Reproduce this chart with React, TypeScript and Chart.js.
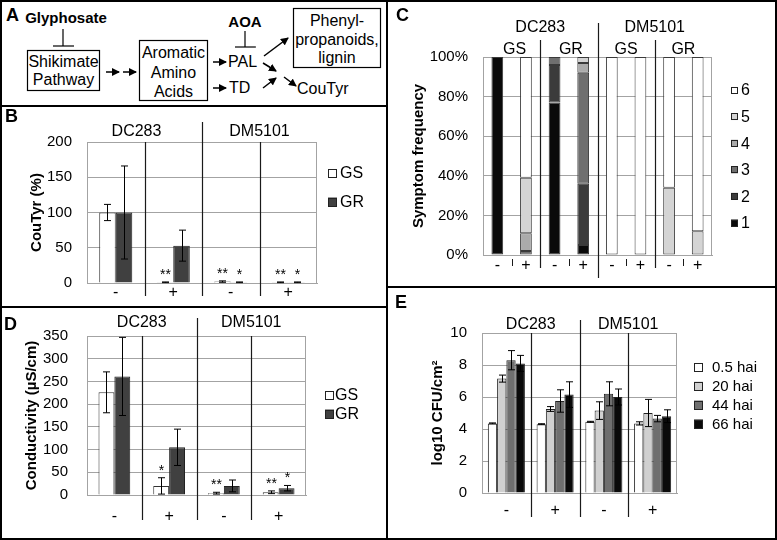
import React, { useEffect, useRef } from 'react';
import { Chart, registerables } from 'chart.js';

Chart.register(...registerables);

const FONT = "'Liberation Sans', Arial, Helvetica, sans-serif";
Chart.defaults.font.family = FONT;
Chart.defaults.color = '#000';

// ---------- shared labels ----------
const strains = ['DC283', 'DM5101'];
const aoa4 = ['-', '+', '-', '+'];
const aoa8 = ['-', '+', '-', '+', '-', '+', '-', '+'];
const genotypes = ['GS', 'GR'];
const genotypeHeaders = ['GS', 'GR', 'GS', 'GR'];

// ---------- panel B: CouTyr (%) ----------
const couTyrGS = [100, 1, 2, 1];
const couTyrGSErr = [11.5, 0.5, 1, 0.5];
const couTyrGR = [100, 53, 1, 1];
const couTyrGRErr = [66, 22, 0.5, 0.5];
const couTyrGSStars = ['', '**', '**', '**'];
const couTyrGRStars = ['', '', '*', '*'];

// ---------- panel D: conductivity ----------
const condGS = [226, 20, 4, 6];
const condGSErr = [45, 18, 2, 3];
const condGR = [261, 105, 20, 15];
const condGRErr = [86, 40, 13, 6];
const condGSStars = ['', '*', '**', '**'];
const condGRStars = ['', '', '', '*'];

// ---------- panel C: symptom frequency (%) ----------
const symptomScores = ['1', '2', '3', '4', '5', '6'];
const score1 = [100, 0, 77, 5, 0, 0, 0, 0];
const score2 = [0, 0, 19, 31, 0, 0, 0, 0];
const score3 = [0, 2, 4, 56, 0, 0, 0, 0];
const score4 = [0, 9, 0, 5, 0, 0, 0, 0];
const score5 = [0, 28, 0, 3, 0, 0, 34, 12];
const score6 = [0, 61, 0, 0, 100, 100, 66, 88];

// ---------- panel E: log10 CFU/cm2 ----------
const haiLabels = ['0.5 hai', '20 hai', '44 hai', '66 hai'];
const cfu05 = [4.35, 4.3, 4.45, 4.35];
const cfu05Err = [0.03, 0.03, 0.03, 0.1];
const cfu20 = [7.15, 5.25, 5.15, 5.0];
const cfu20Err = [0.22, 0.15, 0.55, 0.85];
const cfu44 = [8.3, 5.75, 6.2, 4.65];
const cfu44Err = [0.6, 0.7, 0.75, 0.2];
const cfu66 = [8.1, 6.15, 6.0, 4.8];
const cfu66Err = [0.5, 0.8, 0.5, 0.4];

const GRID = '#a3a3a3';
const GS_FILL = '#ffffff';
const GR_FILL = '#404040';
const SCORE_FILLS = ['#0a0a0a', '#3b3b3b', '#6f6f6f', '#ababab', '#d4d4d4', '#ffffff'];
const HAI_FILLS = ['#ffffff', '#d0d0d0', '#6f6f6f', '#0a0a0a'];

const errorBarPlugin = {
  id: 'errorBars',
  afterDatasetsDraw(chart: any) {
    const ctx = chart.ctx;
    const ys = chart.scales.y;
    chart.data.datasets.forEach((ds: any, di: number) => {
      const errs = ds.errors;
      const stars = ds.stars;
      if (!errs && !stars) return;
      const meta = chart.getDatasetMeta(di);
      meta.data.forEach((el: any, i: number) => {
        const v = ds.data[i];
        const e = errs ? errs[i] : 0;
        const x = Math.round(el.x) + 0.5;
        const yt = ys.getPixelForValue(v + e);
        const yb = ys.getPixelForValue(Math.max(v - e, 0));
        ctx.save();
        if (errs) {
          ctx.strokeStyle = '#000';
          ctx.lineWidth = 1;
          ctx.beginPath();
          ctx.moveTo(x, yt);
          ctx.lineTo(x, yb);
          ctx.moveTo(x - 3.5, yt);
          ctx.lineTo(x + 3.5, yt);
          ctx.moveTo(x - 3.5, yb);
          ctx.lineTo(x + 3.5, yb);
          ctx.stroke();
        }
        if (stars && stars[i]) {
          ctx.fillStyle = '#000';
          ctx.font = `14px ${FONT}`;
          ctx.textAlign = 'center';
          ctx.textBaseline = 'alphabetic';
          ctx.fillText(stars[i], x, yt - 3);
        }
        ctx.restore();
      });
    });
  },
};

function decor(o: any) {
  return {
    id: 'decor',
    afterDraw(chart: any) {
      const { ctx, chartArea: ca } = chart;
      const xs = chart.scales.x;
      const px = (i: number) => xs.getPixelForValue(i);
      const mid = (i: number) => (px(i) + px(i + 1)) / 2;
      ctx.save();
      // right frame of plot
      ctx.strokeStyle = GRID;
      ctx.lineWidth = 1;
      ctx.beginPath();
      const rx = Math.round(ca.right) - 0.5;
      ctx.moveTo(rx, ca.top);
      ctx.lineTo(rx, ca.bottom);
      ctx.stroke();
      // dividers
      (o.dividers || []).forEach((d: any) => {
        ctx.strokeStyle = '#1a1a1a';
        ctx.lineWidth = d.w || 1.2;
        const xx = Math.round(mid(d.after)) + 0.5;
        ctx.beginPath();
        ctx.moveTo(xx, d.y1 === undefined ? ca.top : d.y1);
        ctx.lineTo(xx, d.y2);
        ctx.stroke();
      });
      // headers
      ctx.fillStyle = '#000';
      ctx.font = `16px ${FONT}`;
      ctx.textAlign = 'center';
      ctx.textBaseline = 'middle';
      (o.headers || []).forEach((h: any) => {
        ctx.fillText(h.text, (px(h.from) + px(h.to)) / 2 + (h.dx || 0), h.y);
      });
      // legend
      const lg = o.legend;
      if (lg) {
        ctx.font = `${lg.font}px ${FONT}`;
        ctx.textAlign = 'left';
        ctx.textBaseline = 'middle';
        lg.items.forEach((it: any, i: number) => {
          const cy = lg.y + i * lg.gap;
          ctx.fillStyle = it.fill;
          ctx.fillRect(lg.x, cy - lg.box / 2, lg.box, lg.box);
          ctx.strokeStyle = '#222';
          ctx.lineWidth = 1;
          ctx.strokeRect(lg.x + 0.5, Math.round(cy - lg.box / 2) + 0.5, lg.box - 1, lg.box - 1);
          ctx.fillStyle = '#000';
          ctx.fillText(it.label, lg.x + lg.box + lg.textGap, cy + 1);
        });
      }
      ctx.restore();
    },
  };
}

function barConfig(p: any) {
  return {
    type: 'bar',
    data: { labels: p.labels, datasets: p.datasets },
    options: {
      responsive: false,
      animation: false,
      devicePixelRatio: 1,
      layout: { padding: { top: p.padTop, right: p.padRight, left: 0, bottom: 0 } },
      plugins: { legend: { display: false }, tooltip: { enabled: false } },
      datasets: { bar: { categoryPercentage: p.catPct, barPercentage: 1 } },
      scales: {
        x: {
          stacked: !!p.stacked,
          grid: { display: false, drawTicks: false },
          border: { display: true, color: GRID },
          ticks: { font: { size: 16 }, color: '#000', padding: p.xTickPad, autoSkip: false, maxRotation: 0 },
          afterFit: (s: any) => { s.height = p.xHeight; s.paddingLeft = 0; s.paddingRight = 0; },
        },
        y: {
          stacked: !!p.stacked,
          min: 0,
          max: p.yMax,
          grid: { color: GRID, drawTicks: false, lineWidth: 1 },
          border: { display: true, color: GRID },
          ticks: { stepSize: p.yStep, font: { size: 15 }, color: '#000', padding: p.yTickPad, callback: p.yFmt },
          title: {
            display: true,
            text: p.yTitle,
            font: { size: 15, weight: 'bold' },
            color: '#000',
            padding: { top: p.titlePad, bottom: 0 },
          },
          afterFit: (s: any) => { s.width = p.yWidth; s.paddingTop = 0; s.paddingBottom = 0; },
        },
      },
    },
    plugins: [errorBarPlugin, decor(p.decor)],
  };
}

function ChartCanvas({ make, left, top, width, height }: any) {
  const ref = useRef<HTMLCanvasElement>(null);
  useEffect(() => {
    const chart = new Chart(ref.current as HTMLCanvasElement, make() as any);
    return () => chart.destroy();
  }, []);
  return (
    <canvas
      ref={ref}
      width={width}
      height={height}
      style={{ position: 'absolute', left, top, width, height }}
    />
  );
}

const gsgrDatasets = (gs: number[], gsErr: number[], gsStars: string[], gr: number[], grErr: number[], grStars: string[]) => [
  { label: genotypes[0], data: gs, errors: gsErr, stars: gsStars, backgroundColor: GS_FILL, borderColor: '#333', borderWidth: 1 },
  { label: genotypes[1], data: gr, errors: grErr, stars: grStars, backgroundColor: GR_FILL, borderColor: '#222', borderWidth: 1 },
];

const makeB = () =>
  barConfig({
    labels: aoa4,
    datasets: gsgrDatasets(couTyrGS, couTyrGSErr, couTyrGSStars, couTyrGR, couTyrGRErr, couTyrGRStars),
    yMax: 200, yStep: 50, yTitle: 'CouTyr (%)', titlePad: 28,
    yWidth: 87, xHeight: 24, padTop: 36, padRight: 69, yTickPad: 15, xTickPad: 0, catPct: 0.575,
    decor: {
      headers: [
        { text: strains[0], from: 0, to: 1, y: 26, dx: -8 },
        { text: strains[1], from: 2, to: 3, y: 26 },
      ],
      dividers: [{ after: 0, y2: 190 }, { after: 1, y1: 16, y2: 190 }, { after: 2, y2: 190 }],
      legend: { x: 328, y: 67, gap: 29, box: 9, textGap: 3, font: 16, items: genotypes.map((g, i) => ({ label: g, fill: [GS_FILL, GR_FILL][i] })) },
    },
  });

const makeD = () =>
  barConfig({
    labels: aoa4,
    datasets: gsgrDatasets(condGS, condGSErr, condGSStars, condGR, condGRErr, condGRStars),
    yMax: 350, yStep: 50, yTitle: 'Conductivity (µS/cm)', titlePad: 23,
    yWidth: 87, xHeight: 45, padTop: 29, padRight: 80, yTickPad: 19, xTickPad: 12, catPct: 0.58,
    decor: {
      headers: [
        { text: strains[0], from: 0, to: 1, y: 16 },
        { text: strains[1], from: 2, to: 3, y: 16 },
      ],
      dividers: [{ after: 0, y2: 213 }, { after: 1, y1: 11, y2: 213 }, { after: 2, y2: 213 }],
      legend: { x: 325, y: 88, gap: 19, box: 9, textGap: 1, font: 16, items: genotypes.map((g, i) => ({ label: g, fill: [GS_FILL, GR_FILL][i] })) },
    },
  });

const makeC = () =>
  barConfig({
    labels: aoa8,
    stacked: true,
    datasets: [score1, score2, score3, score4, score5, score6].map((d, i) => ({
      label: symptomScores[i], data: d, backgroundColor: SCORE_FILLS[i], borderColor: '#3a3a3a', borderWidth: 1, borderSkipped: false,
    })),
    yMax: 100, yStep: 20, yFmt: (v: any) => v + '%', yTitle: 'Symptom frequency', titlePad: 22,
    yWidth: 95, xHeight: 32, padTop: 57, padRight: 65, yTickPad: 15, xTickPad: 1, catPct: 0.41,
    decor: {
      headers: [
        { text: strains[0], from: 0, to: 3, y: 28 },
        { text: strains[1], from: 4, to: 7, y: 28 },
        { text: genotypeHeaders[0], from: 0, to: 1, y: 50, dx: 3 },
        { text: genotypeHeaders[1], from: 2, to: 3, y: 50, dx: 2 },
        { text: genotypeHeaders[2], from: 4, to: 5, y: 50 },
        { text: genotypeHeaders[3], from: 6, to: 7, y: 50 },
      ],
      dividers: [
        { after: 1, y1: 40, y2: 268 },
        { after: 3, y1: 23, y2: 278 },
        { after: 5, y1: 40, y2: 268 },
        { after: 0, y1: 259, y2: 266, w: 1 },
        { after: 2, y1: 259, y2: 266, w: 1 },
        { after: 4, y1: 259, y2: 266, w: 1 },
        { after: 6, y1: 259, y2: 266, w: 1 },
      ],
      legend: {
        x: 343, y: 90, gap: 26.6, box: 7, textGap: 3, font: 16,
        items: symptomScores.map((s, i) => ({ label: s, fill: SCORE_FILLS[i] })).reverse(),
      },
    },
  });

const makeE = () =>
  barConfig({
    labels: aoa4,
    datasets: [
      [cfu05, cfu05Err],
      [cfu20, cfu20Err],
      [cfu44, cfu44Err],
      [cfu66, cfu66Err],
    ].map(([d, e], i) => ({
      label: haiLabels[i], data: d, errors: e, backgroundColor: HAI_FILLS[i], borderColor: '#222', borderWidth: 1,
    })),
    yMax: 10, yStep: 2, yTitle: 'log10 CFU/cm²', titlePad: 41,
    yWidth: 94, xHeight: 47, padTop: 46, padRight: 100, yTickPad: 15, xTickPad: 8, catPct: 0.76,
    decor: {
      headers: [
        { text: strains[0], from: 0, to: 1, y: 38 },
        { text: strains[1], from: 2, to: 3, y: 38 },
      ],
      dividers: [{ after: 0, y2: 230 }, { after: 1, y1: 33, y2: 230 }, { after: 2, y2: 230 }],
      legend: { x: 306, y: 80, gap: 19, box: 9, textGap: 9, font: 15, items: haiLabels.map((h, i) => ({ label: h, fill: HAI_FILLS[i] })) },
    },
  });

const Arrow = ({ x1, y1, x2, y2 }: any) => (
  <line x1={x1} y1={y1} x2={x2} y2={y2} stroke="#000" strokeWidth={1.5} markerEnd="url(#ah)" />
);

function PanelA() {
  const t = { fontFamily: FONT, fontSize: 16, fill: '#000' } as any;
  const b = { ...t, fontSize: 15, fontWeight: 'bold' };
  return (
    <svg width={386} height={105} style={{ position: 'absolute', left: 0, top: 0 }}>
      <defs>
        <marker id="ah" markerWidth="8" markerHeight="8" refX="7" refY="4" orient="auto" markerUnits="userSpaceOnUse">
          <path d="M0,0 L8,4 L0,8 Z" fill="#000" />
        </marker>
      </defs>
      <text x={66} y={23} textAnchor="middle" style={b}>Glyphosate</text>
      <line x1={63} y1={29} x2={63} y2={46} stroke="#000" strokeWidth={1.2} />
      <line x1={53} y1={46} x2={74} y2={46} stroke="#000" strokeWidth={1.2} />
      <rect x={27.5} y={50.5} width={72} height={40} fill="none" stroke="#000" strokeWidth={1.2} />
      <text x={63.5} y={67} textAnchor="middle" style={t}>Shikimate</text>
      <text x={63.5} y={85} textAnchor="middle" style={t}>Pathway</text>
      <Arrow x1={106} y1={72} x2={119} y2={72} />
      <Arrow x1={123} y1={72} x2={136} y2={72} />
      <rect x={139.5} y={40.5} width={68} height={60} fill="none" stroke="#000" strokeWidth={1.2} />
      <text x={173.5} y={58} textAnchor="middle" style={t}>Aromatic</text>
      <text x={173.5} y={78} textAnchor="middle" style={t}>Amino</text>
      <text x={173.5} y={97} textAnchor="middle" style={t}>Acids</text>
      <Arrow x1={213} y1={62} x2={226} y2={62} />
      <text x={228} y={67} style={t}>PAL</text>
      <Arrow x1={213} y1={88} x2={226} y2={88} />
      <text x={229} y={93} style={t}>TD</text>
      <text x={245} y={27} textAnchor="middle" style={b}>AOA</text>
      <line x1={245} y1={31} x2={245} y2={47} stroke="#000" strokeWidth={1.2} />
      <line x1={235} y1={47} x2={256} y2={47} stroke="#000" strokeWidth={1.2} />
      <Arrow x1={264} y1={56} x2={288} y2={38} />
      <Arrow x1={263} y1={63} x2={276} y2={71} />
      <Arrow x1={263} y1={88} x2={276} y2={78} />
      <Arrow x1={284} y1={77} x2={296} y2={86} />
      <rect x={293.5} y={8.5} width={87} height={59} fill="none" stroke="#000" strokeWidth={1.2} />
      <text x={337} y={26} textAnchor="middle" style={t}>Phenyl-</text>
      <text x={337} y={45} textAnchor="middle" style={t}>propanoids,</text>
      <text x={337} y={63} textAnchor="middle" style={t}>lignin</text>
      <text x={297} y={94} style={t}>CouTyr</text>
    </svg>
  );
}

const letterStyle = (left: number, top: number): any => ({
  position: 'absolute', left, top, fontFamily: FONT, fontWeight: 'bold', fontSize: 18, lineHeight: '18px', color: '#000',
});

export default function App() {
  return (
    <div style={{ position: 'absolute', left: 0, top: 0, width: 777, height: 540, background: '#fff', overflow: 'hidden' }}>
      <PanelA />
      <ChartCanvas make={makeB} left={0} top={106} width={386} height={201} />
      <ChartCanvas make={makeD} left={0} top={307} width={386} height={233} />
      <ChartCanvas make={makeC} left={388} top={0} width={389} height={287} />
      <ChartCanvas make={makeE} left={388} top={287} width={389} height={253} />
      <div style={letterStyle(6, 6)}>A</div>
      <div style={letterStyle(5, 107)}>B</div>
      <div style={letterStyle(396, 6)}>C</div>
      <div style={letterStyle(4, 315)}>D</div>
      <div style={letterStyle(395, 293)}>E</div>
      {/* frame and panel separators */}
      <div style={{ position: 'absolute', left: 0, top: 0, width: 777, height: 540, boxSizing: 'border-box', border: '2px solid #000' }} />
      <div style={{ position: 'absolute', left: 386, top: 0, width: 2, height: 540, background: '#000' }} />
      <div style={{ position: 'absolute', left: 0, top: 105, width: 387, height: 2, background: '#000' }} />
      <div style={{ position: 'absolute', left: 0, top: 306, width: 387, height: 2, background: '#000' }} />
      <div style={{ position: 'absolute', left: 387, top: 286, width: 390, height: 2, background: '#000' }} />
    </div>
  );
}
